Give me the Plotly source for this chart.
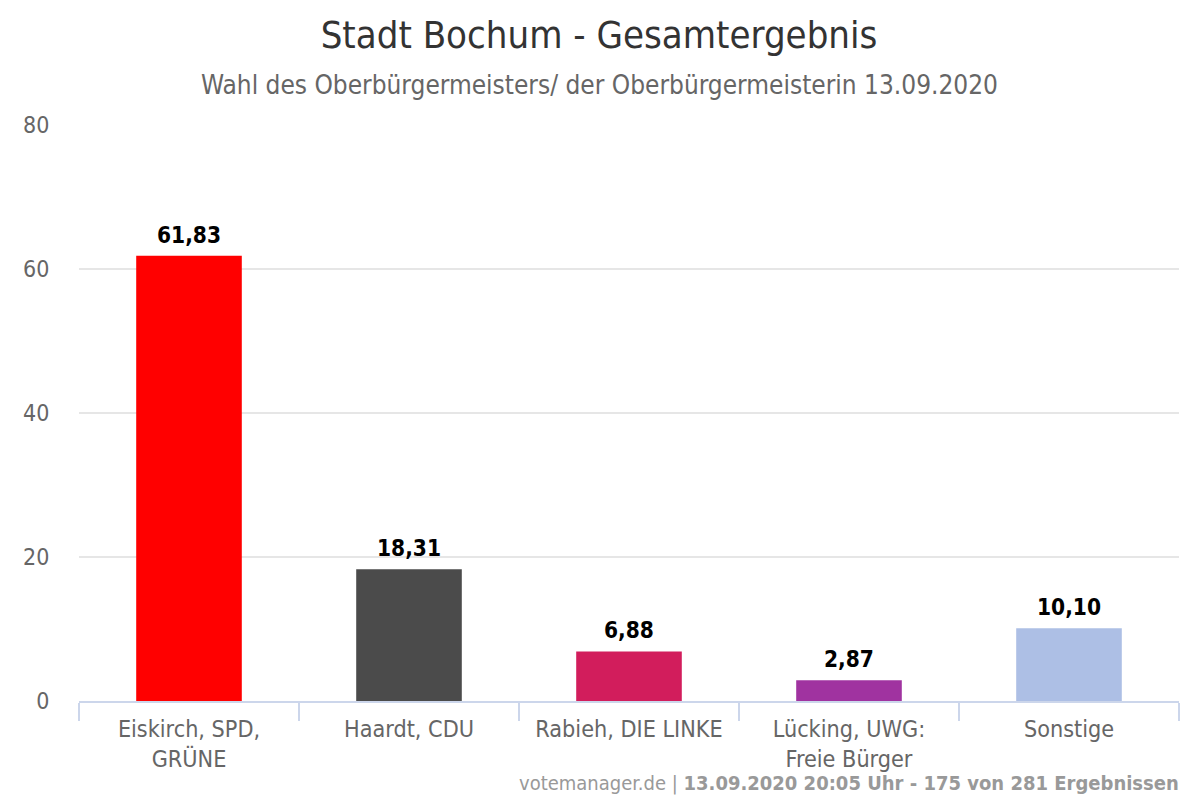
import plotly.graph_objects as go

kandidaten = ['Eiskirch, SPD,<br>GRÜNE', 'Haardt, CDU', 'Rabieh, DIE LINKE', 'Lücking, UWG:<br>Freie Bürger', 'Sonstige']
werte = [61.83, 18.31, 6.88, 2.87, 10.10]
labels = ['61,83', '18,31', '6,88', '2,87', '10,10']
farben = ['#ff0000', '#4b4b4b', '#d21d5c', '#a033a0', '#adbfe5']
y_ticks = [0, 20, 40, 60, 80]

FONT = 'DejaVu Sans Condensed'

fig = go.Figure(data=[go.Bar(
    x=kandidaten,
    y=werte,
    width=0.48,
    marker=dict(color=farben, line=dict(width=0)),
    hoverinfo='skip',
)])

annotations = [
    dict(text='Wahl des Oberbürgermeisters/ der Oberbürgermeisterin 13.09.2020',
         xref='paper', yref='paper', x=0.4728, y=1.07, xanchor='center', yanchor='middle',
         showarrow=False, font=dict(family=FONT, size=26, color='#666666')),
    dict(text='votemanager.de | <b>13.09.2020 20:05 Uhr - 175 von 281 Ergebnissen</b>',
         xref='paper', yref='paper', x=1.002, y=-0.142, xanchor='right', yanchor='middle',
         showarrow=False, font=dict(family=FONT, size=20, color='#999999')),
]
for k, w, l in zip(kandidaten, werte, labels):
    annotations.append(dict(x=k, y=w, text=l, showarrow=False, yanchor='middle', yshift=21,
                            font=dict(family=FONT, size=22.5, color='#000000', weight='bold')))

fig.update_layout(
    width=1200,
    height=800,
    autosize=False,
    paper_bgcolor='#ffffff',
    plot_bgcolor='#ffffff',
    margin=dict(l=71, r=29, t=116.5, b=107),
    showlegend=False,
    font=dict(family=FONT, color='#666666'),
    title=dict(
        text='Stadt Bochum - Gesamtergebnis',
        x=0.4925, xanchor='center', y=0.967, yanchor='middle',
        font=dict(family=FONT, size=38, color='#333333'),
    ),
    xaxis=dict(
        tickfont=dict(family=FONT, size=23.2, color='#666666'),
        showgrid=False,
        showline=True,
        linecolor='#ccd6eb',
        linewidth=2,
        ticks='outside',
        tickson='boundaries',
        ticklen=18,
        tickwidth=2,
        tickcolor='#ccd6eb',
        ticklabelstandoff=6,
    ),
    yaxis=dict(
        range=[0, 80],
        tickvals=y_ticks,
        tickfont=dict(family=FONT, size=23, color='#666666'),
        gridcolor='#e6e6e6',
        gridwidth=2,
        zeroline=False,
        ticks='outside',
        ticklen=24,
        tickcolor='rgba(0,0,0,0)',
    ),
    annotations=annotations,
)

fig.write_html('out.html')
